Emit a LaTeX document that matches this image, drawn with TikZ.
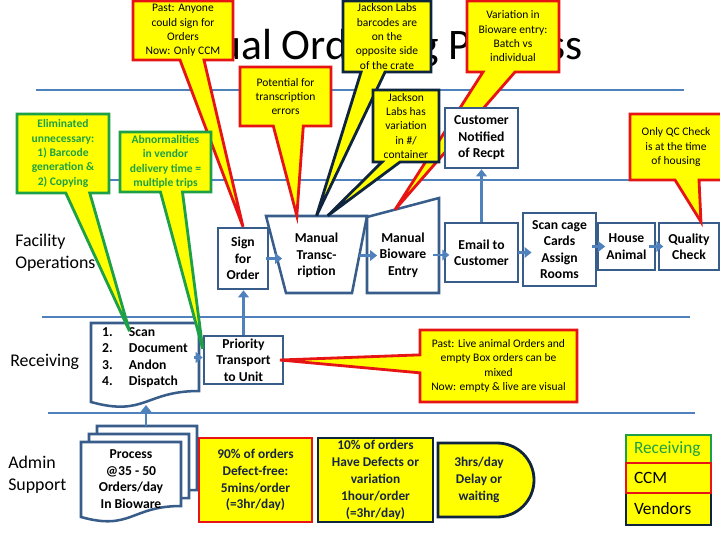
\documentclass[tikz,border=0pt]{standalone}
\usepackage{fontspec}
\setmainfont{Carlito}
\usetikzlibrary{arrows.meta,shapes.callouts,calc}

\definecolor{laneblue}{RGB}{79,129,189}
\definecolor{boxblue}{RGB}{56,93,138}
\definecolor{noteyellow}{RGB}{255,255,0}
\definecolor{notered}{RGB}{230,20,20}
\definecolor{notegreen}{RGB}{30,160,70}
\definecolor{notenavy}{RGB}{15,36,62}
\definecolor{darktext}{RGB}{23,37,64}

\newcommand\calltext{\fontsize{8.2}{10.2}\selectfont}
\newcommand\boxtext{\fontsize{9.7}{11.7}\selectfont\bfseries}
\newcommand\lanetext{\fontsize{12.7}{15.6}\selectfont}
\newcommand\facttext{\fontsize{9.5}{12}\selectfont\bfseries}

\begin{document}
\begin{tikzpicture}[x=0.025cm,y=-0.025cm,line join=miter,
  lane/.style={draw=laneblue,line width=2.1pt},
  pbox/.style={draw=boxblue,fill=white,line width=1.8pt,align=center,font=\boxtext,inner sep=0pt},
  ptext/.style={align=center,font=\boxtext,inner sep=0pt},
  shapeline/.style={draw=boxblue,fill=white,line width=1.8pt},
  flow/.style={draw=laneblue,line width=2pt,-{Triangle[length=5pt,width=7.5pt]}},
  note/.style={rectangle callout,fill=noteyellow,line width=2pt,align=center,inner sep=0.5pt,font=\calltext},
  rednote/.style={note,draw=notered},
  navynote/.style={note,draw=notenavy},
  greennote/.style={note,draw=notegreen,text=notegreen,font=\calltext\bfseries},
  fact/.style={rectangle,fill=noteyellow,line width=2pt,align=center,inner sep=0pt,font=\facttext,text=darktext},
  key/.style={rectangle,fill=noteyellow,line width=2pt,text width=1.725cm,align=left,inner xsep=0.2cm,inner ysep=0pt,font=\fontsize{12.3}{14}\selectfont}]
\useasboundingbox (0,0) rectangle (720,540);
\node[font=\fontsize{31}{31}\selectfont,anchor=base,inner sep=0pt] (title) at (360,59) {Manual Ordering Process};
\draw[lane] (36,90) -- (684,90);
\draw[lane] (36,180) -- (690,180);
\draw[lane] (42,317) -- (690,317);
\draw[lane] (48,413) -- (695,413);
\node[anchor=west,align=left,inner sep=0pt,font=\lanetext] (facility) at (15,253) {Facility\\Operations};
\node[anchor=west,inner sep=0pt,font=\lanetext] (receiving) at (10,362) {Receiving};
\node[anchor=west,align=left,inner sep=0pt,font=\lanetext] (admin) at (8,475) {Admin\\Support};

\node[pbox,minimum width=1.25cm,minimum height=1.525cm] (sign) at (243,258.5) {Sign\\for\\Order};
\draw[shapeline] (266,216) -- (367,216) -- (352,293) -- (286,293) -- cycle;
\node[ptext,minimum width=1.775cm,minimum height=1.975cm] (trans) at (316.5,255.5) {Manual\\Transc-\\ription};
\coordinate (bioleft) at (367,217);
\coordinate (bioright) at (439,198);
\draw[shapeline] (bioleft) -- (bioright) -- (439,293) -- (367,293) -- cycle;
\node[ptext,minimum width=1.35cm,minimum height=1.5cm] (bio) at (403,255) {Manual\\Bioware\\Entry};
\node[pbox,minimum width=1.825cm,minimum height=1.475cm] (email) at (481.5,252.5) {Email to\\Customer};
\node[pbox,minimum width=1.825cm,minimum height=1.825cm] (scan) at (559.5,249.5) {Scan cage\\Cards\\Assign\\Rooms};
\node[pbox,minimum width=1.425cm,minimum height=1.175cm] (house) at (626.5,246.5) {House\\Animal};
\node[pbox,minimum width=1.5cm,minimum height=1.175cm] (qc) at (689,246.5) {Quality\\Check};
\node[pbox,minimum width=1.975cm,minimum height=1.2cm] (prio) at (243.5,360) {Priority\\Transport\\to Unit};
\draw[shapeline] (91,323) -- (199,323) -- (199,391) .. controls (145,391) and (145,417) .. (91,402) -- cycle;
\node[ptext,minimum width=2.7cm,minimum height=1.725cm] (steps) at (145,357.5) {\begin{tabular}{@{}p{19pt}@{}l@{}}1.&Scan\\2.&Document\\3.&Andon\\4.&Dispatch\end{tabular}};
\foreach \o in {16,8,0}
  \draw[shapeline] (81+\o,442-\o) -- (181+\o,442-\o) -- (181+\o,506-\o) .. controls (131+\o,506-\o) and (131+\o,531-\o) .. (81+\o,517-\o) -- cycle;
\node[ptext,minimum width=2.5cm,minimum height=1.6cm] (proc) at (131,479) {Process\\@35 - 50\\Orders/day\\In Bioware};
\coordinate (stepsfoot) at (146,405);
\coordinate (proctop) at (146,426);

\node[rednote,minimum width=2.3cm,minimum height=1.775cm,callout absolute pointer={($(bioleft)!0.39!(bioright)$)},callout pointer width=0.8cm] (batch) at (513,36.5) {Variation in\\Bioware entry:\\Batch vs\\individual};
\node[pbox,minimum width=1.825cm,minimum height=1.5cm] (notif) at (481.5,138) {Customer\\Notified\\of Recpt};

\draw[flow] (proctop) -- (stepsfoot);
\draw[flow] ([xshift=-4pt]steps.east) -- (steps.east -| prio.west);
\draw[flow] (prio.north) -- (prio.north |- sign.south);
\draw[flow] ([xshift=-2pt]sign.east) -- ([xshift=1pt]sign.east -| trans.west);
\draw[flow] ([xshift=5pt]trans.east) -- ([xshift=1pt]trans.east -| bio.west);
\draw[flow] ([xshift=2pt]bio.east) -- ([xshift=4pt]bio.east -| email.west);
\draw[flow] ([xshift=-1pt]email.east) -- ([xshift=7pt]email.east -| scan.west);
\draw[flow] ([xshift=-4pt]scan.east |- house.west) -- ([xshift=6pt]house.west);
\draw[flow] ([xshift=-5pt]house.east) -- ([xshift=4pt]qc.west);
\draw[flow] (email.north) -- (notif.south);

\node[navynote,minimum width=2.2cm,minimum height=1.775cm,callout absolute pointer={(trans.north)},callout pointer width=0.6cm] (barcode) at (387,36.5) {Jackson Labs\\barcodes are\\on the\\opposite side\\of the crate};
\node[navynote,minimum width=1.65cm,minimum height=1.8cm,callout absolute pointer={([xshift=8pt]trans.north)},callout pointer width=0.45cm] (perbox) at (406,126) {Jackson\\Labs has\\variation\\in \#/\\container};
\node[rednote,minimum width=2.5cm,minimum height=1.475cm,callout absolute pointer={(sign.north)},callout pointer width=0.6cm] (anyone) at (183,30.5) {Past: Anyone\\could sign for\\Orders\\Now: Only CCM};
\node[rednote,minimum width=2.275cm,minimum height=1.475cm,callout absolute pointer={([xshift=-14pt]trans.north)},callout pointer width=0.75cm] (typo) at (285.5,96.5) {Potential for\\transcription\\errors};
\node[rednote,minimum width=2.3cm,minimum height=1.65cm,callout absolute pointer={([xshift=8.5pt]qc.north)},callout pointer width=0.6cm] (housing) at (676,147) {Only QC Check\\is at the time\\of housing};
\node[greennote,minimum width=2.3cm,minimum height=1.975cm,callout absolute pointer={([xshift=27.6pt,yshift=-6pt]steps.north west)},callout pointer width=0.6cm] (elim) at (63,153.5) {Eliminated\\unnecessary:\\1) Barcode\\generation \&\\2) Copying};
\node[greennote,minimum width=2.275cm,minimum height=1.5cm,callout absolute pointer={([yshift=-10pt]prio.north west)},callout pointer width=0.55cm] (vendor) at (165.5,162) {Abnormalities\\in vendor\\delivery time =\\multiple trips};
\node[rednote,minimum width=3.925cm,minimum height=1.8cm,callout absolute pointer={([xshift=-3pt]prio.east)},callout pointer width=0.45cm] (mixed) at (498.5,366) {Past: Live animal Orders and\\empty Box orders can be\\mixed\\Now: empty \& live are visual};

\node[fact,draw=notered,minimum width=2.825cm,minimum height=2.1cm] (good) at (255.5,480) {90\% of orders\\Defect-free:\\5mins/order\\(=3hr/day)};
\node[fact,draw=notenavy,minimum width=2.875cm,minimum height=2.1cm] (bad) at (375.5,480) {10\% of orders\\Have Defects or\\variation\\1hour/order\\(=3hr/day)};
\draw[fill=noteyellow,draw=notenavy,line width=2pt] (438,443) -- (497,443) arc[start angle=-90,end angle=90,radius=37] -- (438,517) -- cycle;
\node[fact] (delay) at (479,480) {3hrs/day\\Delay or\\waiting};

\node[key,draw=notegreen,text=notegreen,minimum height=0.7cm] (legrec) at (668.5,449) {Receiving};
\node[key,draw=notenavy,minimum height=0.8cm] (legven) at (668.5,509) {Vendors};
\node[key,draw=notered,minimum height=0.75cm] (legccm) at (668.5,478) {CCM};
\end{tikzpicture}
\end{document}
